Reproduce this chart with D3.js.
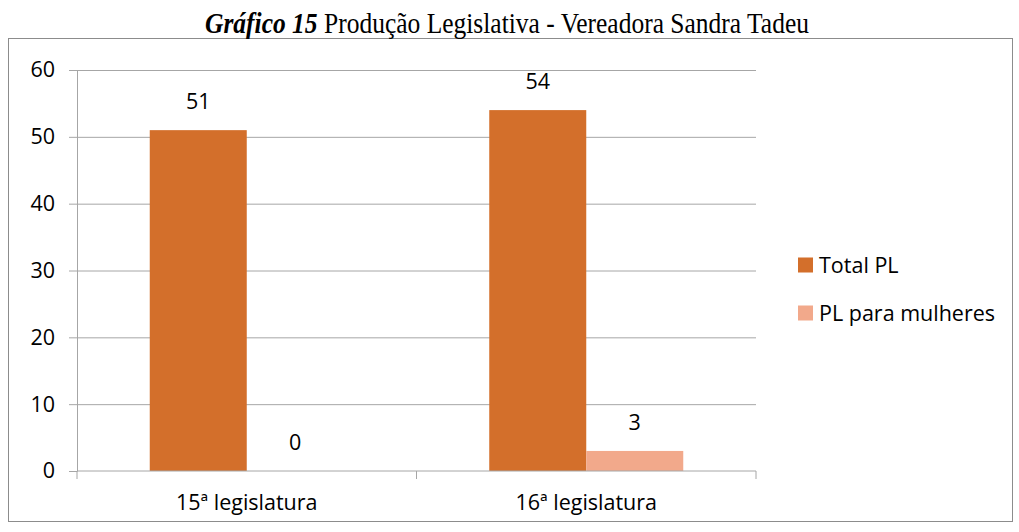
<!DOCTYPE html>
<html lang="pt">
<head>
  <meta charset="UTF-8">
  <title>Produção Legislativa - Vereadora Sandra Tadeu</title>
  <style>
    body { margin: 0; background: #fff; }
    #chart { width: 1019px; height: 532px; }
    .axis text { font-family: "Open Sans", sans-serif; font-size: 21.5px; fill: #000; }
    .axis path, .axis line { stroke: #a6a6a6; }
    .grid line { stroke: #a6a6a6; }
    .grid path { display: none; }
    .label { font-family: "Open Sans", sans-serif; font-size: 21.5px; fill: #000; }
    .legend text { font-family: "Open Sans", sans-serif; font-size: 21.5px; fill: #000; }
  </style>
</head>
<body>
  <div id="chart"></div>
  <script src="https://d3js.org/d3.v7.min.js"></script>
  <script>
    // data
    const categories = ["15ª legislatura", "16ª legislatura"];
    const seriesNames = ["Total PL", "PL para mulheres"];
    const totalPL = [51, 54];
    const plMulheres = [0, 3];
    const yTicks = [0, 10, 20, 30, 40, 50, 60];
    const colors = ["#d36f2b", "#f2a98b"];

    const rows = categories.map((c, i) => ({ cat: c, values: [totalPL[i], plMulheres[i]] }));

    const svg = d3.select("#chart").append("svg")
      .attr("width", 1019)
      .attr("height", 532);

    // outer frame
    svg.append("rect")
      .attr("x", 8.5).attr("y", 38.5)
      .attr("width", 1004).attr("height", 483)
      .attr("fill", "none")
      .attr("stroke", "#8c8c8c");

    // title (source text is a bit stretched vertically)
    const title = svg.append("text")
      .attr("transform", "translate(507,33) scale(1,1.15)")
      .attr("text-anchor", "middle")
      .style("font-family", "'Liberation Serif', 'Times New Roman', serif")
      .style("font-size", "25.5px");
    title.append("tspan").style("font-weight", "bold").style("font-style", "italic").text("Gráfico 15");
    title.append("tspan").text(" Produção Legislativa - Vereadora Sandra Tadeu");

    const plotLeft = 77, plotRight = 756, plotTop = 70, plotBottom = 471;

    const x = d3.scaleBand().domain(categories).range([plotLeft, plotRight]);
    const xs = d3.scaleBand().domain(seriesNames).range([0, x.bandwidth()]).paddingInner(0).paddingOuter(0.75);
    const y = d3.scaleLinear().domain([0, 60]).range([plotBottom, plotTop]);

    // gridlines
    svg.append("g")
      .attr("class", "grid")
      .attr("transform", `translate(${plotLeft},0)`)
      .call(d3.axisRight(y).tickValues(yTicks.filter(d => d > 0)).tickSize(plotRight - plotLeft).tickFormat(""));

    // y axis
    svg.append("g")
      .attr("class", "axis y")
      .attr("transform", `translate(${plotLeft},0)`)
      .call(d3.axisLeft(y).tickValues(yTicks).tickSize(8).tickSizeOuter(0).tickPadding(14));

    // bars
    const groups = svg.append("g").selectAll("g")
      .data(rows)
      .join("g")
      .attr("transform", d => `translate(${x(d.cat)},0)`);

    groups.selectAll("rect")
      .data(d => d.values.map((v, i) => ({ key: seriesNames[i], value: v, i })))
      .join("rect")
      .attr("x", d => xs(d.key))
      .attr("y", d => y(d.value))
      .attr("width", xs.bandwidth())
      .attr("height", d => y(0) - y(d.value))
      .attr("fill", d => colors[d.i]);

    groups.selectAll("text.label")
      .data(d => d.values.map((v, i) => ({ key: seriesNames[i], value: v })))
      .join("text")
      .attr("class", "label")
      .attr("x", d => xs(d.key) + xs.bandwidth() / 2)
      .attr("y", d => y(d.value) - 21)
      .attr("text-anchor", "middle")
      .text(d => d.value);

    // x axis
    const xAxisG = svg.append("g")
      .attr("class", "axis x")
      .attr("transform", `translate(0,${plotBottom})`)
      .call(d3.axisBottom(x).tickSize(0).tickSizeOuter(0).tickPadding(24));
    xAxisG.select(".domain").attr("d", `M${plotLeft},0H${plotRight}`);
    // category boundary ticks
    xAxisG.selectAll("line.sep")
      .data([plotLeft, x(categories[1]), plotRight])
      .join("line")
      .attr("class", "sep")
      .attr("x1", d => d).attr("x2", d => d)
      .attr("y1", 0).attr("y2", 8)
      .attr("stroke", "#a6a6a6");

    // legend
    const legend = svg.append("g").attr("class", "legend")
      .selectAll("g")
      .data(seriesNames)
      .join("g")
      .attr("transform", (d, i) => `translate(798,${265 + i * 48})`);
    legend.append("rect")
      .attr("x", 0).attr("y", -7.5)
      .attr("width", 15).attr("height", 15)
      .attr("fill", (d, i) => colors[i]);
    legend.append("text")
      .attr("x", 21).attr("y", 0)
      .attr("dy", "0.35em")
      .text(d => d);
  </script>
</body>
</html>
